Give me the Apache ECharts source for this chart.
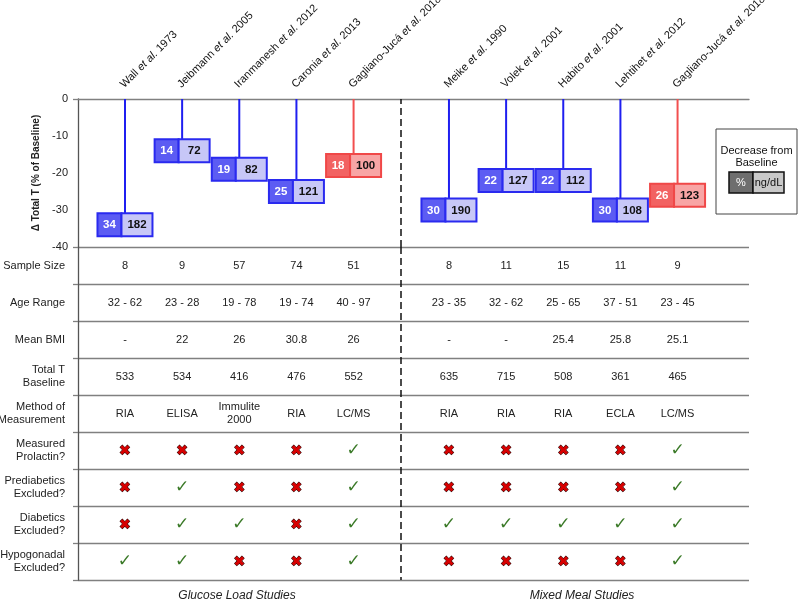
<!DOCTYPE html>
<html><head><meta charset="utf-8">
<script src="https://cdn.jsdelivr.net/npm/echarts@6/dist/echarts.min.js"></script>
<style>html,body{margin:0;padding:0;background:#fff}#c{width:800px;height:602px}</style>
</head><body><div id="c"></div>
<script>
// ---------- data ----------
const studyAuthors = ['Wall', 'Jeibmann', 'Iranmanesh', 'Caronia', 'Gagliano-Jucá', 'Meike', 'Volek', 'Habito', 'Lehtihet', 'Gagliano-Jucá'];
const studyYears = [1973, 2005, 2012, 2013, 2018, 1990, 2001, 2001, 2012, 2018];
const groupNames = ['Glucose Load Studies', 'Mixed Meal Studies'];
const groupSizes = [5, 5];
const pctDecrease = [34, 14, 19, 25, 18, 30, 22, 22, 30, 26];
const ngdlDecrease = [182, 72, 82, 121, 100, 190, 127, 112, 108, 123];
const yTicks = [0, -10, -20, -30, -40];
const rowNames = ['Sample Size', 'Age Range', 'Mean BMI', 'Total T\nBaseline', 'Method of\nMeasurement',
  'Measured\nProlactin?', 'Prediabetics\nExcluded?', 'Diabetics\nExcluded?', 'Hypogonadal\nExcluded?'];
const sampleSize = [8, 9, 57, 74, 51, 8, 11, 15, 11, 9];
const ageRange = ['32 - 62', '23 - 28', '19 - 78', '19 - 74', '40 - 97', '23 - 35', '32 - 62', '25 - 65', '37 - 51', '23 - 45'];
const meanBMI = ['-', '22', '26', '30.8', '26', '-', '-', '25.4', '25.8', '25.1'];
const totalTBaseline = [533, 534, 416, 476, 552, 635, 715, 508, 361, 465];
const method = ['RIA', 'ELISA', 'Immulite\n2000', 'RIA', 'LC/MS', 'RIA', 'RIA', 'RIA', 'ECLA', 'LC/MS'];
const measuredProlactin = [0, 0, 0, 0, 1, 0, 0, 0, 0, 1];
const prediabeticsExcluded = [0, 1, 0, 0, 1, 0, 0, 0, 0, 1];
const diabeticsExcluded = [0, 1, 1, 0, 1, 1, 1, 1, 1, 1];
const hypogonadalExcluded = [1, 1, 0, 0, 1, 0, 0, 0, 0, 1];
const legendTitle = 'Decrease from\nBaseline';
const legendCells = ['%', 'ng/dL'];

// ---------- layout ----------
const FONT = 'Liberation Sans, Arial, sans-serif';
const GAP = 0.669;           // extra spacing (in column units) between the two groups
const XMIN = -0.822, XMAX = 10.919, DIVIDER = 4.829;
const textRows = [sampleSize, ageRange, meanBMI, totalTBaseline, method];
const flagRows = [measuredProlactin, prediabeticsExcluded, diabeticsExcluded, hypogonadalExcluded];
function pos(i) { return i + (i >= groupSizes[0] ? GAP : 0); }
const BLUE = { stem: '#1f1ff0', border: '#2a2aef', dark: '#5c5cf3', light: '#c7c7f7' };
const RED = { stem: '#f24f4f', border: '#f04848', dark: '#f26262', light: '#f8a5a5' };
const GRID_LINE = '#808080';

const chart = echarts.init(document.getElementById('c'));

function renderBoxes(params, api) {
  const i = params.dataIndex;
  const x = pos(i);
  const top = api.coord([x, 0]);
  const c = api.coord([x, -pctDecrease[i]]);
  const pal = method[i] === 'LC/MS' ? RED : BLUE;
  const H = 23, W1 = 24, W2 = 31;
  const left = c[0] - (W1 + W2) / 2, y0 = c[1] - H / 2;
  return {
    type: 'group', children: [
      { type: 'line', shape: { x1: top[0], y1: top[1], x2: top[0], y2: y0 }, style: { stroke: pal.stem, lineWidth: 2 } },
      { type: 'rect', shape: { x: left, y: y0, width: W1, height: H }, style: { fill: pal.dark, stroke: pal.border, lineWidth: 2 } },
      { type: 'rect', shape: { x: left + W1, y: y0, width: W2, height: H }, style: { fill: pal.light, stroke: pal.border, lineWidth: 2 } },
      { type: 'text', x: left + W1 / 2, y: c[1] + 0.5, style: { text: String(pctDecrease[i]), fill: '#fff', fontFamily: FONT, fontWeight: 'bold', fontSize: 11.5, align: 'center', verticalAlign: 'middle' } },
      { type: 'text', x: left + W1 + W2 / 2, y: c[1] + 0.5, style: { text: String(ngdlDecrease[i]), fill: '#111', fontFamily: FONT, fontWeight: 'bold', fontSize: 11.5, align: 'center', verticalAlign: 'middle' } },
      { type: 'text', x: top[0] + 1, y: top[1] - 9, rotation: Math.PI / 4,
        style: { text: '{n|' + studyAuthors[i] + ' }{i|et al.}{n| ' + studyYears[i] + '}', align: 'left', verticalAlign: 'bottom',
          rich: { n: { fontFamily: FONT, fontSize: 11, fill: '#111' }, i: { fontFamily: FONT, fontSize: 11, fontStyle: 'italic', fill: '#111' } } } }
    ]
  };
}

function renderTable(params, api) {
  const i = params.dataIndex;
  const x = pos(i);
  const children = [];
  textRows.forEach((row, r) => {
    const p = api.coord([x, r]);
    children.push({ type: 'text', x: p[0], y: p[1], style: { text: String(row[i]), fill: '#222', fontFamily: FONT, fontSize: 11, lineHeight: 13, align: 'center', verticalAlign: 'middle' } });
  });
  flagRows.forEach((row, k) => {
    const p = api.coord([x, textRows.length + k]);
    if (row[i]) {
      children.push({ type: 'text', x: p[0], y: p[1], style: { text: '✓', fill: '#3b7a28', fontFamily: 'DejaVu Sans', fontSize: 17, align: 'center', verticalAlign: 'middle' } });
    } else {
      children.push({ type: 'text', x: p[0], y: p[1] + 1, style: { text: '✖', fill: '#d80000', stroke: '#2a0000', lineWidth: 1, fontFamily: 'DejaVu Sans', fontSize: 14, align: 'center', verticalAlign: 'middle' } });
    }
  });
  return { type: 'group', children };
}

const dividerLine = {
  silent: true, symbol: 'none', label: { show: false },
  lineStyle: { type: [7, 4], color: '#111', width: 1.5 },
  data: [{ xAxis: DIVIDER }]
};

const option = {
  animation: false,
  backgroundColor: '#fff',
  grid: [
    { left: 78, top: 99, width: 671, height: 148, containLabel: false, outerBoundsMode: 'none' },
    { left: 78, top: 247, width: 671, height: 333, containLabel: false, outerBoundsMode: 'none' }
  ],
  xAxis: [
    { gridIndex: 0, type: 'value', min: XMIN, max: XMAX, position: 'top',
      axisLine: { show: true, onZero: false, lineStyle: { color: GRID_LINE, width: 1.3 } },
      axisTick: { show: false }, axisLabel: { show: false }, splitLine: { show: false } },
    { gridIndex: 1, type: 'value', min: XMIN, max: XMAX, show: false }
  ],
  yAxis: [
    { gridIndex: 0, type: 'value', min: -40, max: 0, interval: 10,
      name: 'Δ Total T (% of Baseline)', nameLocation: 'middle', nameGap: 35,
      nameTextStyle: { fontFamily: FONT, fontWeight: 'bold', fontSize: 10, color: '#222' },
      axisLine: { show: true, onZero: false, lineStyle: { color: '#555', width: 1.3 } },
      axisTick: { show: true, customValues: [0], length: 5, lineStyle: { color: GRID_LINE, width: 1.3 } },
      axisLabel: { customValues: yTicks, margin: 10, fontFamily: FONT, fontSize: 11, color: '#222' },
      splitLine: { show: false } },
    { gridIndex: 1, type: 'category', data: rowNames, inverse: true,
      axisLine: { show: true, onZero: false, lineStyle: { color: '#555', width: 1.3 } },
      axisTick: { show: true, length: 5, lineStyle: { color: GRID_LINE, width: 1.3 } },
      axisLabel: { margin: 13, fontFamily: FONT, fontSize: 11, lineHeight: 13, color: '#222' },
      splitLine: { show: true, lineStyle: { color: GRID_LINE, width: 1.3 } } }
  ],
  series: [
    { type: 'custom', xAxisIndex: 0, yAxisIndex: 0, renderItem: renderBoxes, z: 5,
      data: pctDecrease.map((v, i) => [pos(i), -v]), markLine: dividerLine },
    { type: 'custom', xAxisIndex: 1, yAxisIndex: 1, renderItem: renderTable, z: 5,
      data: pctDecrease.map((v, i) => [pos(i), 0]), markLine: dividerLine }
  ],
  graphic: [
    { type: 'text', x: 237, y: 596, style: { text: groupNames[0], fontFamily: FONT, fontStyle: 'italic', fontSize: 12, fill: '#222', align: 'center', verticalAlign: 'middle' } },
    { type: 'text', x: 582, y: 596, style: { text: groupNames[1], fontFamily: FONT, fontStyle: 'italic', fontSize: 12, fill: '#222', align: 'center', verticalAlign: 'middle' } },
    { type: 'rect', shape: { x: 716, y: 129, width: 81, height: 85 }, style: { fill: '#fff', stroke: '#444', lineWidth: 1 } },
    { type: 'text', x: 756.5, y: 157, style: { text: legendTitle, fontFamily: FONT, fontSize: 11, lineHeight: 12.5, fill: '#111', align: 'center', verticalAlign: 'middle' } },
    { type: 'rect', shape: { x: 729, y: 172, width: 24, height: 21 }, style: { fill: '#6e6e6e', stroke: '#111', lineWidth: 1.5 } },
    { type: 'rect', shape: { x: 753, y: 172, width: 31, height: 21 }, style: { fill: '#c9c9c9', stroke: '#111', lineWidth: 1.5 } },
    { type: 'text', x: 741, y: 183, style: { text: legendCells[0], fontFamily: FONT, fontSize: 11, fill: '#fff', align: 'center', verticalAlign: 'middle' } },
    { type: 'text', x: 768.5, y: 183, style: { text: legendCells[1], fontFamily: FONT, fontSize: 11, fill: '#111', align: 'center', verticalAlign: 'middle' } }
  ]
};
chart.setOption(option);
</script>
</body></html>
